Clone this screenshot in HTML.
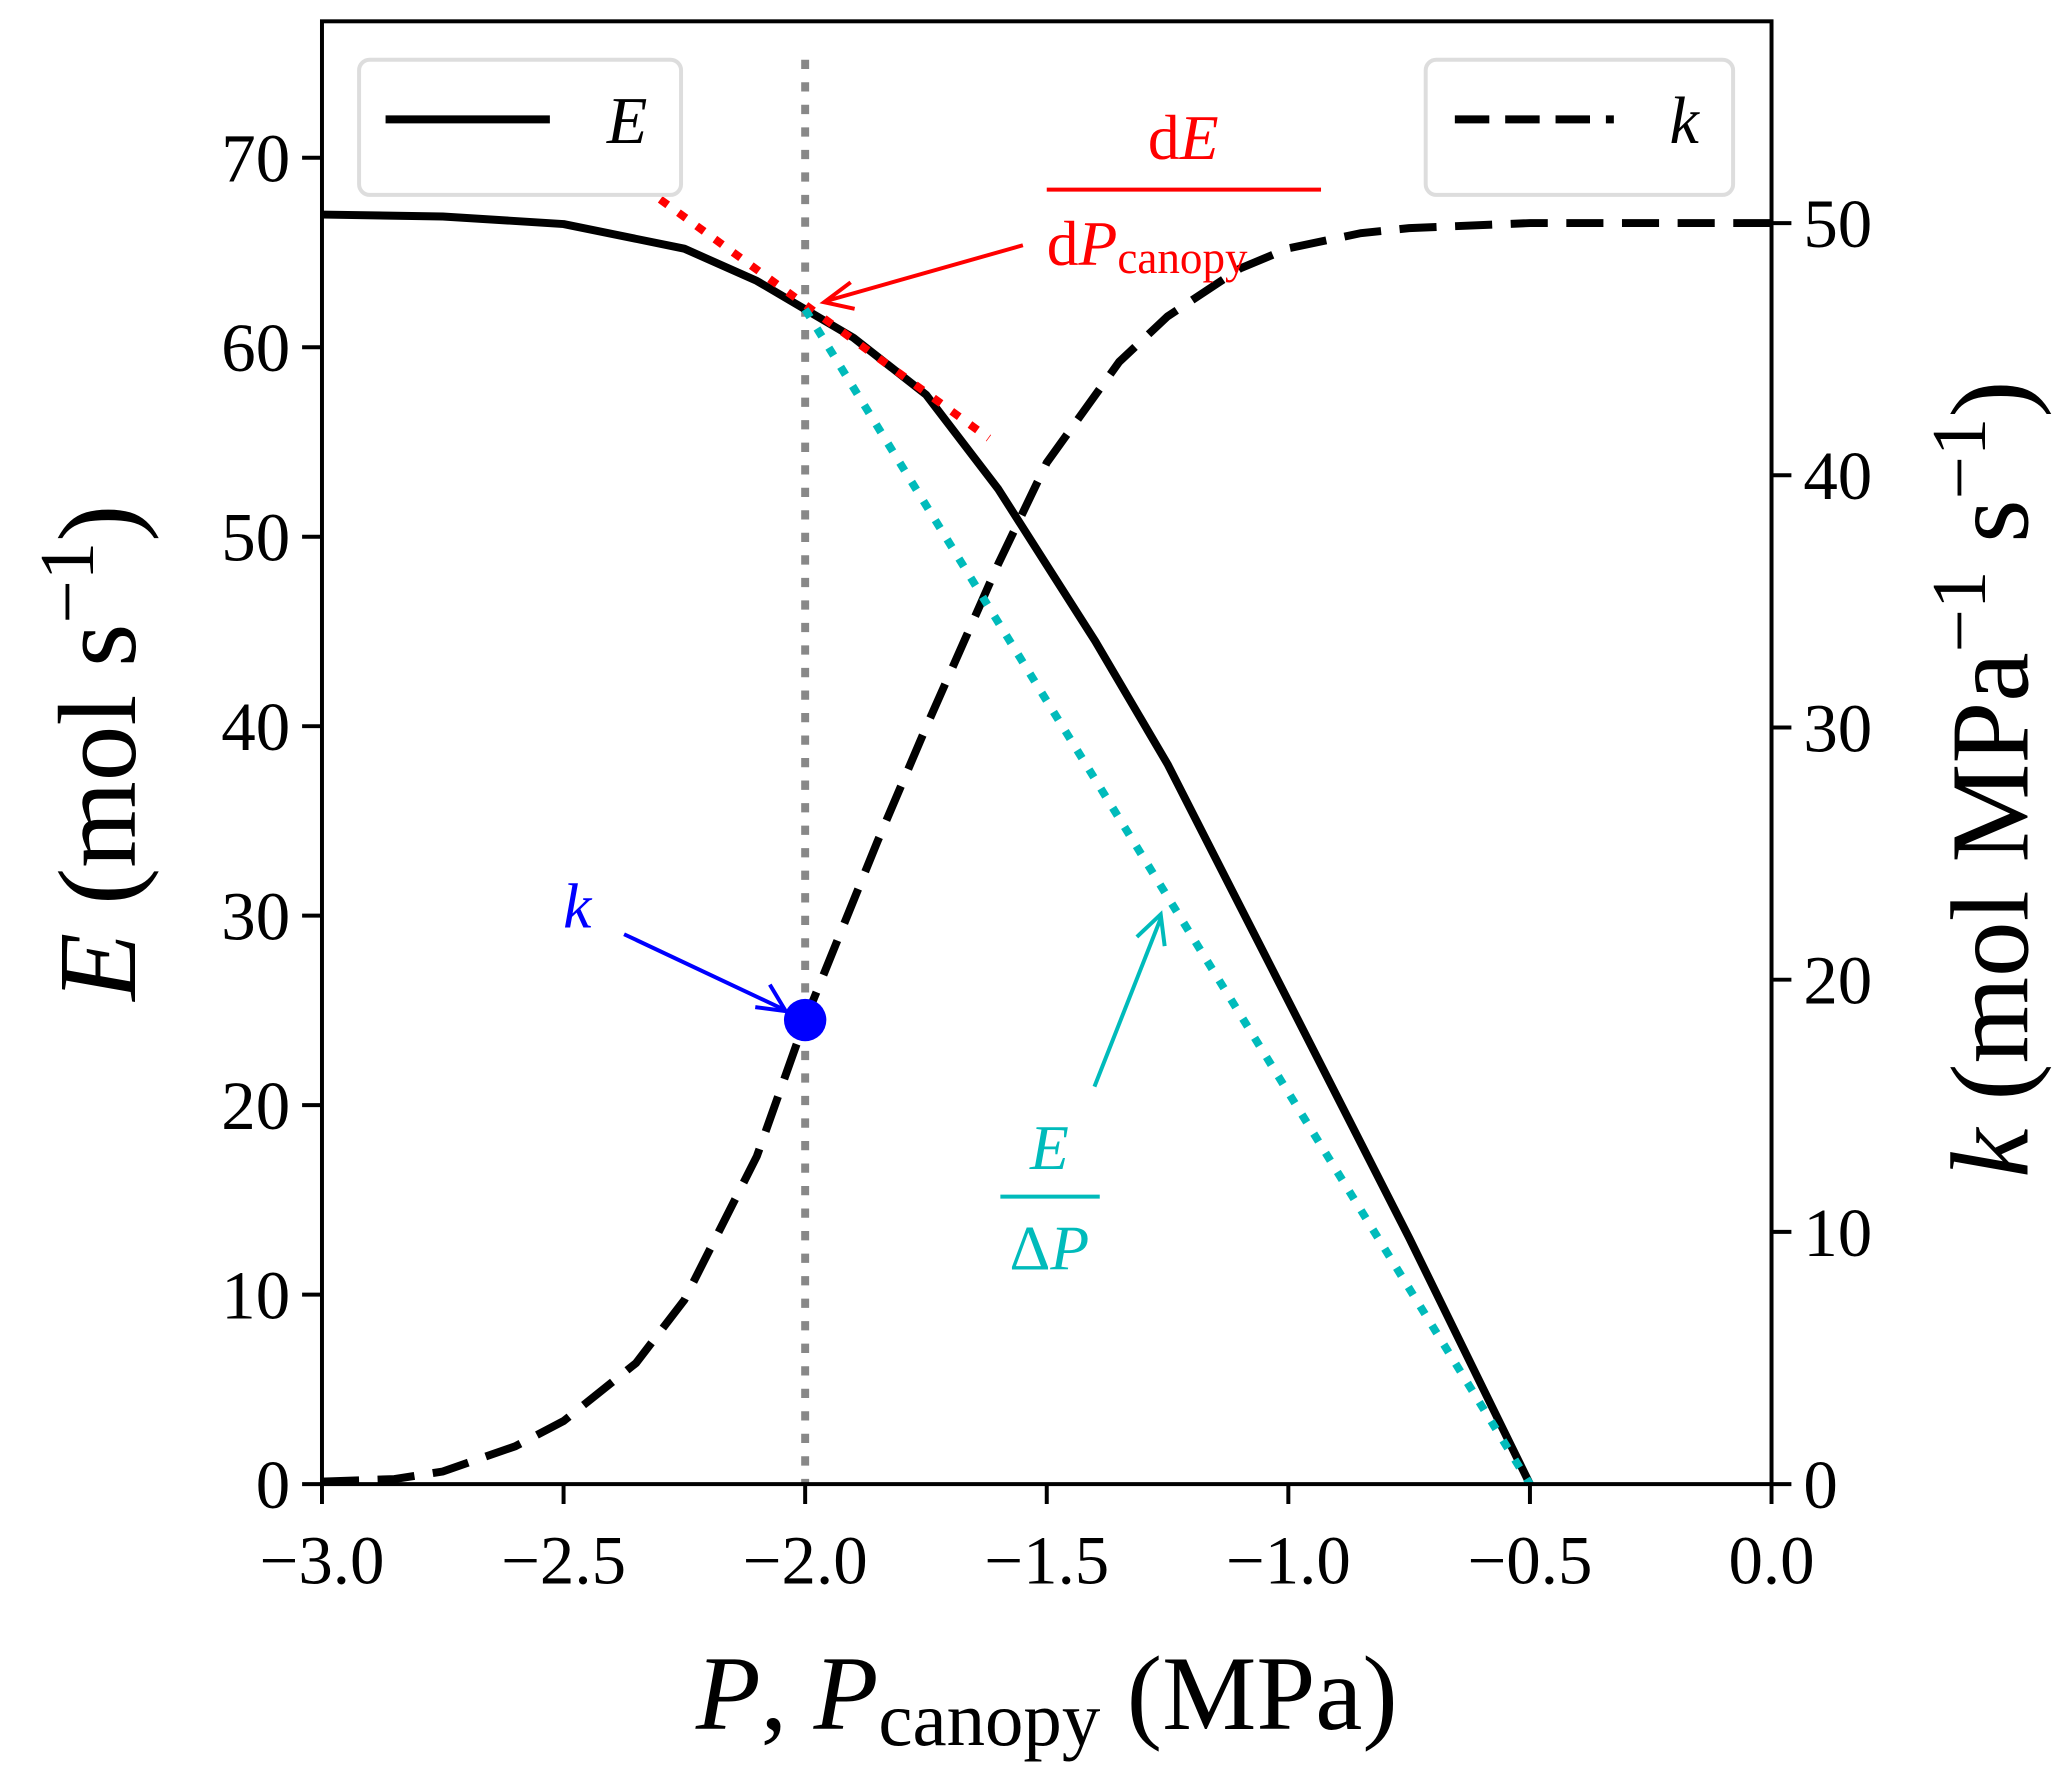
<!DOCTYPE html>
<html><head><meta charset="utf-8"><style>
html,body{margin:0;padding:0;background:#fff}
svg{display:block}
text{font-family:"Liberation Serif",serif}
</style></head><body>
<svg id="chart" width="2067" height="1785" viewBox="0 0 1560 1347" xmlns="http://www.w3.org/2000/svg">
<g id="marks"></g>
<g id="axes"></g>
<g>
<rect x="271" y="45" width="243" height="102" rx="8" fill="#fff" stroke="#ddd" stroke-width="3"/>
<line x1="291" y1="90" x2="415" y2="90" stroke="#000" stroke-width="6"/>
<text x="458" y="108" font-size="50" font-style="italic">E</text>
</g>
<g>
<rect x="1076" y="45" width="232" height="102" rx="8" fill="#fff" stroke="#ddd" stroke-width="3"/>
<line x1="1098" y1="90" x2="1218" y2="90" stroke="#000" stroke-width="6" stroke-dasharray="26,12"/>
<text x="1260" y="108" font-size="50" font-style="italic">k</text>
</g>
<g fill="#f00">
<text x="893" y="120" font-size="48" text-anchor="middle">d<tspan font-style="italic">E</tspan></text>
<line x1="790" y1="143" x2="997" y2="143" stroke="#f00" stroke-width="3"/>
<text x="790" y="200" font-size="48">d<tspan font-style="italic">P</tspan><tspan font-size="34" dy="6">canopy</tspan></text>
<line x1="772" y1="185" x2="624" y2="227" stroke="#f00" stroke-width="3"/>
<polyline points="642,213 622,228 645,233" fill="none" stroke="#f00" stroke-width="3"/>
</g>
<g>
<text x="425" y="700" font-size="48" font-style="italic" fill="#00f">k</text>
<line x1="471" y1="705" x2="592" y2="762" stroke="#00f" stroke-width="3"/>
<polyline points="570,760 593,763 581,743" fill="none" stroke="#00f" stroke-width="3"/>
</g>
<g fill="#0bb">
<text x="792" y="882" font-size="48" font-style="italic" text-anchor="middle">E</text>
<line x1="755" y1="903" x2="830" y2="903" stroke="#0bb" stroke-width="3"/>
<text x="792" y="958" font-size="48" text-anchor="middle">Δ<tspan font-style="italic">P</tspan></text>
<line x1="826" y1="820" x2="876" y2="693" stroke="#0bb" stroke-width="3"/>
<polyline points="858,707 876,690 879,714" fill="none" stroke="#0bb" stroke-width="3"/>
</g>
<text x="790" y="1305" font-size="80" text-anchor="middle"><tspan font-style="italic">P</tspan>, <tspan font-style="italic">P</tspan><tspan font-size="58" dy="12">canopy</tspan><tspan dy="-12"> (MPa)</tspan></text>
<text transform="translate(102,568) rotate(-90)" font-size="84" text-anchor="middle"><tspan font-style="italic">E</tspan> (mol s<tspan font-size="58" dy="-32">−1</tspan><tspan dy="32">)</tspan></text>
<text transform="translate(1530,588) rotate(-90)" font-size="84" text-anchor="middle"><tspan font-style="italic">k</tspan> (mol MPa<tspan font-size="58" dy="-32">−1</tspan><tspan dy="32"> s</tspan><tspan font-size="58" dy="-32">−1</tspan><tspan dy="32">)</tspan></text>
</svg>
<script>
const pVals=[-3,-2.75,-2.5,-2.25,-2.1,-2,-1.9,-1.75,-1.6,-1.5,-1.4,-1.25,-1,-0.75,-0.5];
const eVals=[67,66.9,66.5,65.2,63.5,62,60.5,57.5,52.5,48.5,44.5,38,25.5,13,0];
const kP=[-3,-2.85,-2.75,-2.6,-2.5,-2.35,-2.25,-2.1,-2,-1.85,-1.75,-1.6,-1.5,-1.35,-1.25,-1.1,-1,-0.85,-0.75,-0.5,-0.25,0];
const kVals=[0.1,0.2,0.5,1.5,2.5,4.8,7.3,13,18.4,25.5,30,36.5,40.5,44.5,46.3,48.2,49,49.6,49.8,50,50,50];
const xTicks=[-3,-2.5,-2,-1.5,-1,-0.5,0];
const xTickLabels=["−3.0","−2.5","−2.0","−1.5","−1.0","−0.5","0.0"];
const yLeftTicks=[0,10,20,30,40,50,60,70];
const yRightTicks=[0,10,20,30,40,50];
const markerP=-2, markerK=18.4;
const tangentP=[-2.3,-1.62], tangentE=[67.8,55.2];
const secantP=[-2,-0.5], secantE=[62,0];

const L=243,R=1337,T=16,B=1120;
const x=v=>L+(v+3)/3*(R-L);
const yl=v=>B-v*(B-T)/77.2;
const yr=v=>B-v*(B-T)/58;
const NS="http://www.w3.org/2000/svg";
const marks=document.getElementById('marks'), axes=document.getElementById('axes');
function mk(tag,attrs,parent){const e=document.createElementNS(NS,tag);for(const k in attrs)e.setAttribute(k,attrs[k]);parent.appendChild(e);return e;}

let vl=mk('line',{x1:x(-2),y1:45,x2:x(-2),y2:B,stroke:'#888','stroke-width':6,'stroke-dasharray':'7,10'},marks);



let ep=mk('polyline',{points:pVals.map((p,i)=>x(p)+','+yl(eVals[i])).join(' '),fill:'none',stroke:'#000','stroke-width':6,'stroke-linejoin':'round'},marks);



let kp=mk('polyline',{points:kP.map((p,i)=>x(p)+','+yr(kVals[i])).join(' '),fill:'none',stroke:'#000','stroke-width':6,'stroke-dasharray':'28,14'},marks);



let tl=mk('line',{x1:x(tangentP[0]),y1:yl(tangentE[0]),x2:x(tangentP[1]),y2:yl(tangentE[1]),stroke:'#f00','stroke-width':6,'stroke-dasharray':'7,10'},marks);



let sl=mk('line',{x1:x(secantP[0]),y1:yl(secantE[0]),x2:x(secantP[1]),y2:yl(secantE[1]),stroke:'#0bb','stroke-width':6,'stroke-dasharray':'7,10'},marks);



let dot=mk('circle',{cx:x(markerP),cy:yr(markerK),r:16,fill:'#00f'},marks);



let frame=mk('rect',{x:L,y:T,width:R-L,height:B-T,fill:'none',stroke:'#000','stroke-width':3},axes);



xTicks.forEach((t,i)=>{
  let tk=mk('line',{x1:x(t),y1:B,x2:x(t),y2:B+15,stroke:'#000','stroke-width':3},axes);
  
  
  let lb=mk('text',{x:x(t),y:B+75,'font-size':52,'text-anchor':'middle'},axes);
  lb.textContent=xTickLabels[i];
  
  
});
yLeftTicks.forEach(t=>{
  let tk=mk('line',{x1:L-15,y1:yl(t),x2:L,y2:yl(t),stroke:'#000','stroke-width':3},axes);
  
  
  let lb=mk('text',{x:L-24,y:yl(t)+18,'font-size':52,'text-anchor':'end'},axes);
  lb.textContent=String(t);
  
  
});
yRightTicks.forEach(t=>{
  let tk=mk('line',{x1:R,y1:yr(t),x2:R+15,y2:yr(t),stroke:'#000','stroke-width':3},axes);
  
  
  let lb=mk('text',{x:R+24,y:yr(t)+18,'font-size':52,'text-anchor':'start'},axes);
  lb.textContent=String(t);
  
  
});
</script>
</body></html>
